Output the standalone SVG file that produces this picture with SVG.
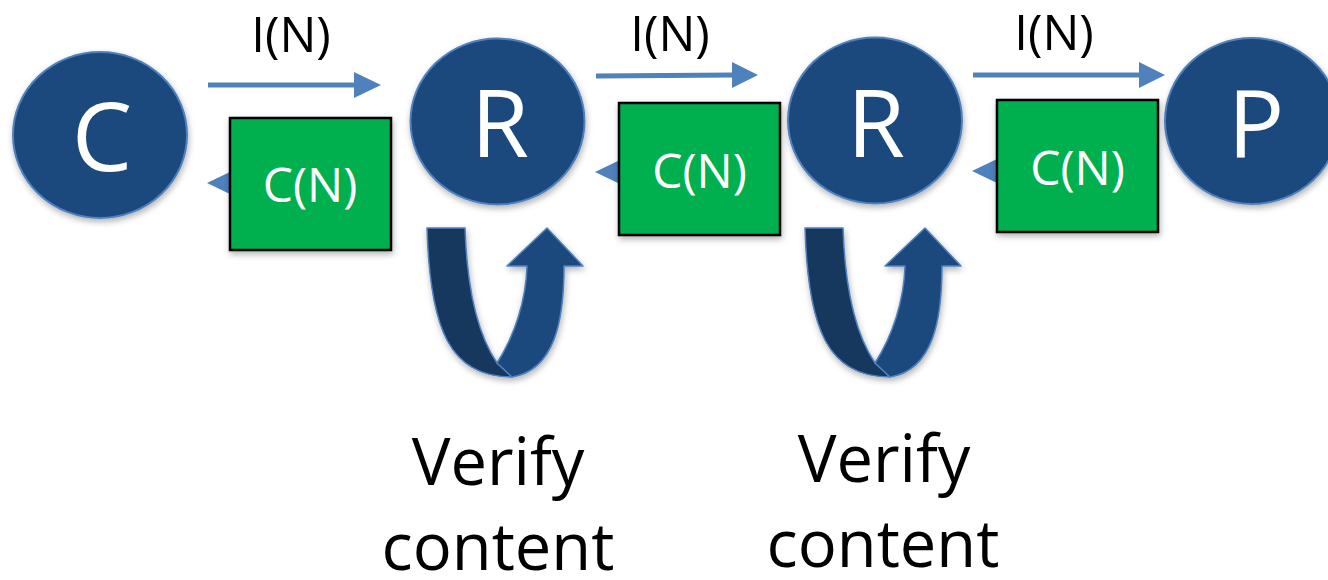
<svg xmlns="http://www.w3.org/2000/svg" width="1328" height="580" viewBox="0 0 1328 580">
<defs>
<filter id="sh" x="-20%" y="-20%" width="140%" height="140%"><feDropShadow dx="1" dy="3" stdDeviation="3" flood-color="#000" flood-opacity="0.3"/></filter>
<style>
.node{fill:#1F497D;stroke:#4F81BD;stroke-width:2}
.box{fill:#00B050;stroke:#000;stroke-width:2.5}
.wl{fill:#fff;font-family:"Open Sans","Liberation Sans",sans-serif;text-anchor:middle}
.bl{fill:#000;font-family:"Open Sans","Liberation Sans",sans-serif;text-anchor:middle}
.ln{stroke:#4F81BD;stroke-width:5;fill:none}
.hd{fill:#4F81BD}
.ud{fill:#17375E;stroke:#4F81BD;stroke-width:1.5;stroke-linejoin:round}
.uf{fill:#1F497D;stroke:#4F81BD;stroke-width:1.5;stroke-linejoin:round}
</style>
</defs>
<rect width="1328" height="580" fill="#fff"/>
<g id="connectors">
<g id="i1"><line class="ln" x1="208" y1="85" x2="356" y2="85"/><polygon class="hd" points="354,72 381,85 354,98"/></g>
<g id="i2"><line class="ln" x1="596" y1="76" x2="734" y2="75"/><polygon class="hd" points="732,62 758,75 732,88"/></g>
<g id="i3"><line class="ln" x1="973" y1="75" x2="1141" y2="75"/><polygon class="hd" points="1139,62 1165,75 1139,88"/></g>
<g id="c1"><line class="ln" x1="300" y1="183" x2="232" y2="183"/><polygon class="hd" points="234,170 207,183 234,196"/></g>
<g id="c2"><line class="ln" x1="690" y1="172" x2="620" y2="172"/><polygon class="hd" points="622,159 595,172 622,185"/></g>
<g id="c3"><line class="ln" x1="1070" y1="171" x2="997" y2="171"/><polygon class="hd" points="999,158 972,171 999,184"/></g>
<g id="loop1" filter="url(#sh)">
<path class="ud" d="M427,228 L465,228 C467,290 478,335 497,363 L512,377 C450,377 430,330 427,228 Z"/>
<path class="uf" d="M497,363 C515,335 526,300 527,266 L507,266 L547,228 L583,266 L564,266 C564,320 555,370 512,377 Z"/>
</g>
<g id="loop2" filter="url(#sh)" transform="translate(378,0)">
<path class="ud" d="M427,228 L465,228 C467,290 478,335 497,363 L512,377 C450,377 430,330 427,228 Z"/>
<path class="uf" d="M497,363 C515,335 526,300 527,266 L507,266 L547,228 L583,266 L564,266 C564,320 555,370 512,377 Z"/>
</g>
</g>
<g id="nodeC"><ellipse class="node" cx="100" cy="135" rx="87" ry="83" filter="url(#sh)"/><text class="wl" x="102" y="171" font-size="96">C</text></g>
<g id="nodeR1"><ellipse class="node" cx="497.5" cy="121.5" rx="87" ry="83" filter="url(#sh)"/><text class="wl" x="500" y="157" font-size="94">R</text></g>
<g id="nodeR2"><ellipse class="node" cx="875" cy="120.5" rx="87" ry="83" filter="url(#sh)"/><text class="wl" x="876" y="157" font-size="94">R</text></g>
<g id="nodeP"><ellipse class="node" cx="1252" cy="121" rx="87" ry="83" filter="url(#sh)"/><text class="wl" x="1256" y="157" font-size="94">P</text></g>
<g id="box1"><rect class="box" x="230" y="118" width="161" height="132" filter="url(#sh)"/><text class="wl" x="310" y="202" font-size="48">C(N)</text></g>
<g id="box2"><rect class="box" x="619" y="103" width="161" height="132" filter="url(#sh)"/><text class="wl" x="699.5" y="188" font-size="48">C(N)</text></g>
<g id="box3"><rect class="box" x="997" y="100" width="161" height="132" filter="url(#sh)"/><text class="wl" x="1077.5" y="185" font-size="48">C(N)</text></g>
<g id="labels">
<text class="bl" x="291" y="52" font-size="49">I(N)</text>
<text class="bl" x="670" y="51" font-size="49">I(N)</text>
<text class="bl" x="1054" y="50" font-size="49">I(N)</text>
<text class="bl" x="498" y="485" font-size="65">Verify</text>
<text class="bl" x="498" y="570" font-size="65">content</text>
<text class="bl" x="884" y="482" font-size="65">Verify</text>
<text class="bl" x="883" y="567" font-size="65">content</text>
</g>
</svg>
